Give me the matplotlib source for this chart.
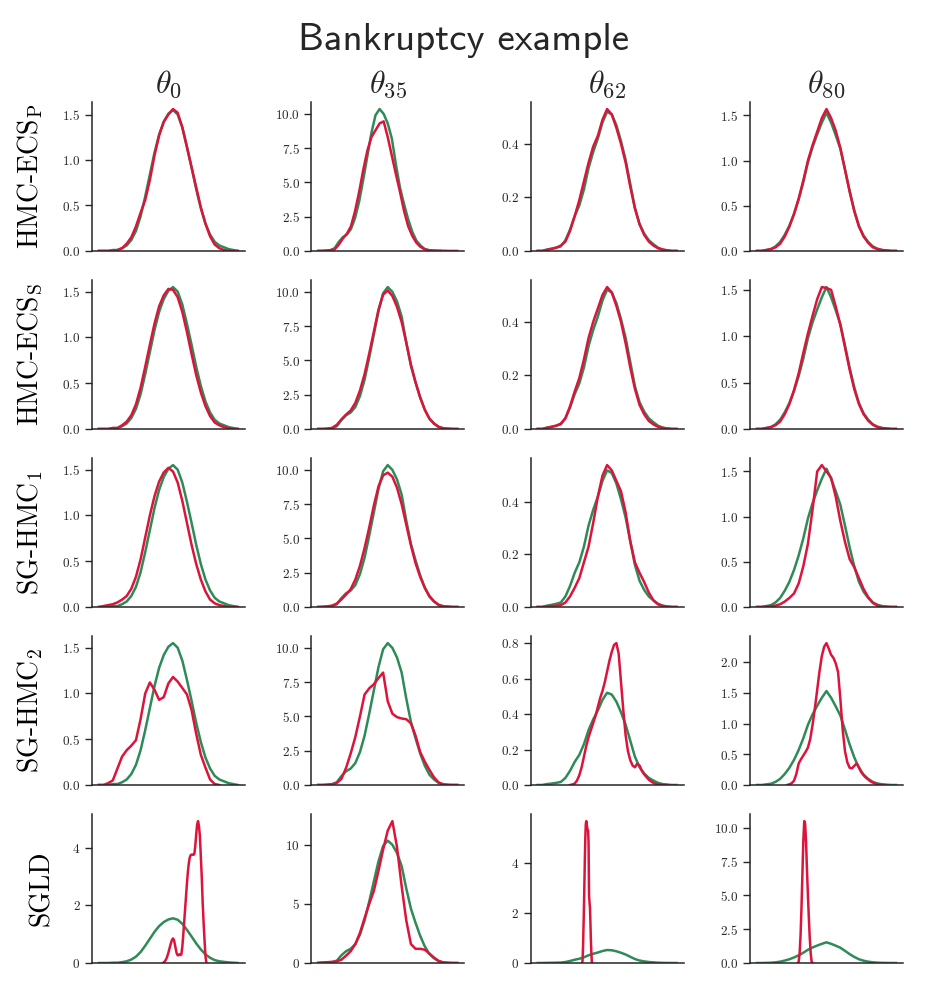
import numpy as np
import matplotlib
matplotlib.use("Agg")
import matplotlib.pyplot as plt

# posterior density estimates
# every curve = evenly spaced values over a (lo, hi) support
full = (-3.0, 3.0)

params = [r"$\theta_{0}$", r"$\theta_{35}$", r"$\theta_{62}$", r"$\theta_{80}$"]
methods = [r"HMC-ECS$_\mathrm{P}$", r"HMC-ECS$_\mathrm{S}$",
           r"SG-HMC$_1$", r"SG-HMC$_2$", "SGLD"]

# reference posterior (green), same in every row
green_t0 = [0.00, 0.00, 0.00, 0.01, 0.01, 0.03, 0.06, 0.12, 0.22, 0.38, 0.60,
            0.84, 1.08, 1.28, 1.42, 1.51, 1.55, 1.50, 1.36, 1.15, 0.92, 0.68,
            0.47, 0.30, 0.18, 0.10, 0.06, 0.04, 0.02, 0.01, 0.00]
green_t35 = [0.00, 0.00, 0.02, 0.06, 0.20, 0.65, 1.00, 1.20, 1.60, 2.40, 3.60,
             5.20, 6.90, 8.60, 9.90, 10.35, 10.00, 9.30, 8.20, 6.30, 4.60, 3.40,
             2.30, 1.40, 0.75, 0.40, 0.15, 0.05, 0.02, 0.00, 0.00]
green_t62 = [0.000, 0.000, 0.005, 0.008, 0.012, 0.017, 0.040, 0.080, 0.130,
             0.170, 0.230, 0.310, 0.370, 0.420, 0.480, 0.520, 0.510, 0.470,
             0.410, 0.340, 0.250, 0.160, 0.100, 0.065, 0.040, 0.025, 0.012,
             0.005, 0.002, 0.000, 0.000]
green_t80 = [0.00, 0.00, 0.01, 0.02, 0.05, 0.10, 0.18, 0.28, 0.41, 0.57, 0.76,
             0.98, 1.15, 1.29, 1.42, 1.53, 1.42, 1.28, 1.13, 0.90, 0.66, 0.45,
             0.28, 0.17, 0.10, 0.05, 0.025, 0.01, 0.005, 0.00, 0.00]

# HMC-ECS_P
ecsp_t0 = [0.00, 0.00, 0.00, 0.00, 0.01, 0.03, 0.08, 0.15, 0.27, 0.42, 0.56,
           0.78, 1.05, 1.27, 1.42, 1.50, 1.56, 1.52, 1.36, 1.14, 0.92, 0.70,
           0.48, 0.30, 0.16, 0.07, 0.03, 0.01, 0.00, 0.00, 0.00]
ecsp_t35_range = (-3.0, 3.8)
ecsp_t35 = [0.00, 0.01, 0.02, 0.05, 0.12, 0.45, 0.90, 1.25, 1.80, 2.90, 4.30,
            5.90, 7.30, 8.30, 8.80, 9.30, 9.45, 8.30, 6.95, 5.60, 4.30, 2.90,
            1.80, 1.10, 0.60, 0.30, 0.12, 0.06, 0.03, 0.02, 0.01, 0.01, 0.00,
            0.00, 0.00]
ecsp_t62 = [0.000, 0.000, 0.004, 0.008, 0.012, 0.020, 0.035, 0.075, 0.130,
            0.190, 0.260, 0.330, 0.390, 0.430, 0.490, 0.530, 0.510, 0.460,
            0.400, 0.330, 0.240, 0.160, 0.100, 0.060, 0.035, 0.020, 0.010,
            0.005, 0.002, 0.000, 0.000]
ecsp_t80 = [0.00, 0.00, 0.01, 0.02, 0.04, 0.08, 0.16, 0.27, 0.41, 0.58, 0.78,
            1.00, 1.17, 1.32, 1.47, 1.57, 1.47, 1.33, 1.14, 0.90, 0.66, 0.44,
            0.27, 0.16, 0.09, 0.04, 0.02, 0.01, 0.005, 0.00, 0.00]

# HMC-ECS_S
ecss_t0 = [0.00, 0.00, 0.00, 0.01, 0.01, 0.04, 0.08, 0.15, 0.27, 0.45, 0.68,
           0.92, 1.15, 1.34, 1.46, 1.53, 1.52, 1.44, 1.28, 1.06, 0.82, 0.59,
           0.40, 0.25, 0.14, 0.07, 0.04, 0.02, 0.01, 0.00, 0.00]
ecss_t35 = [0.00, 0.00, 0.02, 0.08, 0.30, 0.70, 1.05, 1.35, 1.90, 2.80, 4.00,
            5.50, 7.10, 8.70, 9.80, 10.10, 9.70, 8.90, 7.80, 6.30, 4.70, 3.40,
            2.30, 1.40, 0.75, 0.38, 0.15, 0.05, 0.02, 0.00, 0.00]
ecss_t62 = [0.000, 0.000, 0.004, 0.008, 0.012, 0.020, 0.040, 0.085, 0.140,
            0.190, 0.260, 0.340, 0.400, 0.450, 0.500, 0.530, 0.510, 0.460,
            0.400, 0.320, 0.230, 0.150, 0.090, 0.055, 0.030, 0.017, 0.008,
            0.004, 0.001, 0.000, 0.000]
ecss_t80 = [0.00, 0.00, 0.01, 0.02, 0.04, 0.08, 0.16, 0.27, 0.42, 0.60, 0.82,
            1.03, 1.22, 1.40, 1.53, 1.52, 1.50, 1.32, 1.12, 0.88, 0.64, 0.43,
            0.27, 0.16, 0.09, 0.045, 0.02, 0.01, 0.004, 0.00, 0.00]

# SG-HMC_1
sghmc1_t0 = [0.00, 0.01, 0.02, 0.03, 0.05, 0.08, 0.12, 0.20, 0.33, 0.52, 0.76,
             1.00, 1.21, 1.37, 1.47, 1.52, 1.48, 1.36, 1.16, 0.92, 0.68, 0.47,
             0.30, 0.17, 0.08, 0.04, 0.02, 0.01, 0.00, 0.00, 0.00]
sghmc1_t35 = [0.00, 0.02, 0.05, 0.10, 0.25, 0.55, 0.90, 1.30, 2.00, 3.00, 4.30,
              5.80, 7.40, 8.80, 9.60, 9.80, 9.50, 8.70, 7.50, 6.00, 4.50, 3.20,
              2.20, 1.40, 0.80, 0.40, 0.15, 0.05, 0.02, 0.00, 0.00]
sghmc1_t62 = [0.000, 0.000, 0.002, 0.004, 0.005, 0.007, 0.017, 0.040, 0.073,
              0.110, 0.170, 0.230, 0.320, 0.420, 0.500, 0.540, 0.520, 0.480,
              0.440, 0.360, 0.250, 0.170, 0.130, 0.095, 0.055, 0.025, 0.010,
              0.004, 0.001, 0.000, 0.000]
sghmc1_t80 = [0.00, 0.00, 0.005, 0.01, 0.015, 0.03, 0.06, 0.10, 0.15, 0.26,
              0.45, 0.70, 1.08, 1.50, 1.57, 1.50, 1.43, 1.22, 0.95, 0.72, 0.53,
              0.44, 0.32, 0.20, 0.11, 0.045, 0.015, 0.005, 0.00, 0.00, 0.00]

# SG-HMC_2
sghmc2_t0_range = (-3.0, 2.2)
sghmc2_t0 = [0.00, 0.00, 0.02, 0.05, 0.18, 0.31, 0.38, 0.43, 0.49, 0.72, 1.00,
             1.12, 1.04, 0.93, 0.96, 1.11, 1.18, 1.13, 1.06, 0.99, 0.82, 0.56,
             0.33, 0.19, 0.06, 0.01, 0.00]
sghmc2_t35 = [0.00, 0.00, 0.02, 0.05, 0.15, 0.45, 1.25, 2.30, 3.50, 5.00, 6.60,
              7.05, 7.35, 7.80, 8.20, 6.10, 5.20, 4.95, 4.85, 4.80, 4.50, 3.60,
              2.40, 1.70, 1.10, 0.55, 0.18, 0.04, 0.00, 0.00, 0.00]
sghmc2_t62_range = (-1.6, 2.6)
sghmc2_t62 = [0.000, 0.003, 0.008, 0.025, 0.055, 0.100, 0.160, 0.220, 0.270,
              0.310, 0.350, 0.390, 0.440, 0.490, 0.530, 0.580, 0.640, 0.700,
              0.750, 0.790, 0.800, 0.740, 0.580, 0.420, 0.280, 0.190, 0.140,
              0.110, 0.100, 0.120, 0.110, 0.080, 0.060, 0.045, 0.030, 0.020,
              0.012, 0.007, 0.004, 0.002, 0.001, 0.000, 0.000]
sghmc2_t80_range = (-1.7, 2.5)
sghmc2_t80 = [0.00, 0.01, 0.03, 0.07, 0.18, 0.35, 0.42, 0.48, 0.54, 0.61, 0.75,
              0.98, 1.25, 1.55, 1.85, 2.10, 2.25, 2.31, 2.22, 2.12, 2.07, 1.98,
              1.84, 1.40, 0.90, 0.55, 0.37, 0.28, 0.27, 0.31, 0.35, 0.29, 0.21,
              0.16, 0.12, 0.09, 0.06, 0.04, 0.025, 0.015, 0.008, 0.003, 0.00]

# SGLD
sgld_t0_range = (-0.24, 1.64)
sgld_t0 = [0.00, 0.02, 0.05, 0.10, 0.16, 0.25, 0.36, 0.48, 0.60, 0.72,
           0.81, 0.85, 0.80, 0.65, 0.48, 0.33, 0.27, 0.27, 0.30, 0.28,
           0.30, 0.55, 0.95, 1.40, 1.85, 2.30, 2.75, 3.15, 3.45, 3.65,
           3.74, 3.76, 3.76, 3.75, 3.78, 4.05, 4.45, 4.80, 4.92, 4.75,
           4.40, 3.70, 3.00, 2.10, 1.40, 0.80, 0.25, 0.00]
sgld_t35 = [0.02, 0.05, 0.07, 0.10, 0.14, 0.28, 0.62, 1.00, 1.60, 2.55, 3.80,
            5.00, 6.10, 7.80, 9.60, 11.20, 12.00, 9.80, 6.50, 3.60, 1.60, 1.20,
            1.20, 1.12, 0.80, 0.45, 0.18, 0.04, 0.01, 0.00, 0.00]
sgld_t62_range = (-1.08, -0.64)
sgld_t62 = [0.00, 0.10, 0.60, 1.40, 2.20, 3.20, 4.20, 5.05, 5.55, 5.68, 5.55,
            5.42, 5.33, 5.30, 4.80, 2.70, 2.45, 2.20, 1.60, 0.90, 0.40, 0.05,
            0.00]
sgld_t80_range = (-1.24, -0.60)
sgld_t80 = [0.0, 0.1, 0.7, 2.0, 4.0, 6.5, 9.0, 10.5, 10.3, 8.9, 6.8, 5.0, 3.3,
            1.8, 0.7, 0.1, 0.0]

greens = [green_t0, green_t35, green_t62, green_t80]
reds = [
    [(ecsp_t0, full), (ecsp_t35, ecsp_t35_range), (ecsp_t62, full), (ecsp_t80, full)],
    [(ecss_t0, full), (ecss_t35, full), (ecss_t62, full), (ecss_t80, full)],
    [(sghmc1_t0, full), (sghmc1_t35, full), (sghmc1_t62, full), (sghmc1_t80, full)],
    [(sghmc2_t0, sghmc2_t0_range), (sghmc2_t35, full),
     (sghmc2_t62, sghmc2_t62_range), (sghmc2_t80, sghmc2_t80_range)],
    [(sgld_t0, sgld_t0_range), (sgld_t35, full),
     (sgld_t62, sgld_t62_range), (sgld_t80, sgld_t80_range)],
]

GREEN = "#2e8b57"
RED = "#dc143c"
DARK = "#262626"

plt.rcParams.update({
    "font.family": "cmr10",
    "mathtext.fontset": "cm",
    "axes.formatter.use_mathtext": True,
    "axes.unicode_minus": False,
    "axes.edgecolor": DARK,
    "axes.linewidth": 1.1,
    "ytick.color": DARK,
    "ytick.labelsize": 9.5,
    "ytick.major.size": 4.8,
    "ytick.major.width": 1.0,
    "text.color": DARK,
})


def curve(vals, support):
    lo, hi = support
    return np.linspace(lo, hi, len(vals)), vals


fig, axes = plt.subplots(5, 4, figsize=(9.27, 9.88), dpi=100)
fig.subplots_adjust(left=0.0992, right=0.974, bottom=0.0253, top=0.8968,
                    wspace=0.435, hspace=0.195)

for i in range(len(methods)):
    for j in range(len(params)):
        ax = axes[i, j]
        ax.plot(*curve(greens[j], full), color=GREEN, lw=1.8)
        ax.plot(*curve(*reds[i][j]), color=RED, lw=1.8)
        ax.set_ylim(bottom=0)
        ax.set_xticks([])
        ax.spines["top"].set_visible(False)
        ax.spines["right"].set_visible(False)
        if i == 0:
            ax.set_title(params[j], fontsize=23, pad=7)
        if j == 0:
            ax.set_ylabel(methods[i], fontsize=20, labelpad=12)

fig.text(0.5, 0.9494, "Bankruptcy example", ha="center", va="baseline",
         fontsize=28, family="cmss10", color=DARK)

fig.savefig("out.png", dpi=100)
